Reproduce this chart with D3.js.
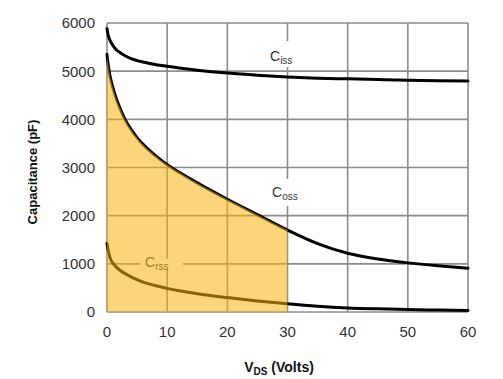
<!DOCTYPE html>
<html><head><meta charset="utf-8">
<script src="https://cdn.jsdelivr.net/npm/d3@7"></script>
<style>body{margin:0;background:#fff}svg{display:block}</style>
</head><body>
<svg id="c" width="503" height="379"></svg>
<script>
const vds  = [0,0.25,0.5,1,1.5,2,3,4,5,6,8,10,12,15,20,25,30,35,40,45,50,55,60];
const ciss = [5880,5720,5640,5530,5450,5400,5320,5260,5220,5190,5140,5100,5065,5020,4960,4915,4880,4855,4840,4825,4810,4800,4795];
const coss = [5350,5080,4900,4650,4450,4280,4000,3790,3620,3480,3250,3060,2900,2680,2340,2020,1700,1420,1220,1100,1020,960,910];
const crss = [1420,1250,1130,1010,940,880,800,730,670,620,550,490,440,380,300,230,170,120,85,65,50,40,30];
const xTicks = [0,10,20,30,40,50,60];
const yTicks = [0,1000,2000,3000,4000,5000,6000];
const shadeMax = 30;

const svg = d3.select("#c");
const x = d3.scaleLinear().domain([0,60]).range([107,468]);
const y = d3.scaleLinear().domain([0,6000]).range([312,23]);
const font = "Liberation Sans, Arial, sans-serif";
const gridCol = "#8c8c8c";

// grid
svg.append("g").selectAll("line").data(xTicks).join("line")
  .attr("x1",d=>x(d)).attr("x2",d=>x(d)).attr("y1",y(0)).attr("y2",y(6000))
  .attr("stroke",gridCol).attr("stroke-width",1.6);
svg.append("g").selectAll("line").data(yTicks).join("line")
  .attr("x1",x(0)).attr("x2",x(60)).attr("y1",d=>y(d)).attr("y2",d=>y(d))
  .attr("stroke",gridCol).attr("stroke-width",1.6);

// tick labels
svg.append("g").selectAll("text").data(yTicks).join("text")
  .attr("x",95).attr("y",d=>y(d)).attr("dy","0.36em").attr("text-anchor","end")
  .attr("font-family",font).attr("font-size",15).attr("fill","#333").text(d=>d);
svg.append("g").selectAll("text").data(xTicks).join("text")
  .attr("x",d=>x(d)).attr("y",337).attr("text-anchor","middle")
  .attr("font-family",font).attr("font-size",15).attr("fill","#333").text(d=>d);

// series labels with white backing
function label(cx, cy, sub, bg){
  svg.append("rect").attr("x",bg[0]).attr("y",bg[1]).attr("width",bg[2]).attr("height",bg[3]).attr("fill","#fff");
  const t = svg.append("text").attr("x",cx).attr("y",cy).attr("font-family",font).attr("fill","#333").attr("font-size",14);
  t.append("tspan").text("C");
  t.append("tspan").attr("font-size",10).attr("dy",3).text(sub);
}
label(270, 61, "iss", [266,41,32,26]);
label(272, 197, "oss", [268,179,32,27]);
label(145, 267, "rss", [140,259,43,10]);

// curves
const pts = arr => vds.map((v,i)=>[v,arr[i]]);
const line = d3.line().x(d=>x(d[0])).y(d=>y(d[1])).curve(d3.curveMonotoneX);
[ciss,coss,crss].forEach(s=>{
  svg.append("path").attr("d",line(pts(s))).attr("fill","none")
    .attr("stroke","#000").attr("stroke-width",3).attr("stroke-linecap","round");
});

// shaded area under Coss up to 30 V
const area = d3.area().x(d=>x(d[0])).y0(y(0)).y1(d=>y(d[1])).curve(d3.curveMonotoneX);
svg.append("path").attr("d",area(pts(coss).filter(d=>d[0]<=shadeMax)))
  .attr("fill","rgb(246,179,13)").attr("fill-opacity",0.55);

// axis titles
svg.append("text").attr("transform","translate(37,172) rotate(-90)").attr("text-anchor","middle")
  .attr("font-family",font).attr("font-weight","bold").attr("font-size",13).attr("fill","#111")
  .text("Capacitance (pF)");
const xt = svg.append("text").attr("x",279).attr("y",372).attr("text-anchor","middle")
  .attr("font-family",font).attr("font-weight","bold").attr("font-size",14).attr("fill","#111");
xt.append("tspan").text("V");
xt.append("tspan").attr("font-size",10).attr("dy",3).text("DS");
xt.append("tspan").attr("dy",-3).text(" (Volts)");
</script>
</body></html>
